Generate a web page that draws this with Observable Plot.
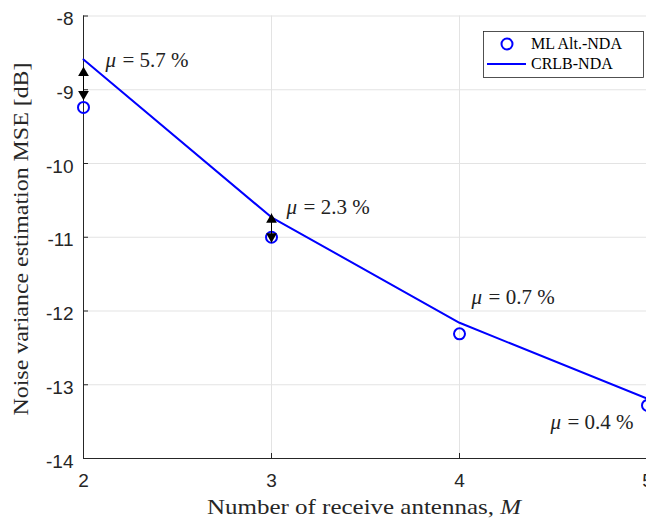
<!DOCTYPE html>
<html><head><meta charset="utf-8">
<script src="https://cdn.jsdelivr.net/npm/d3@7"></script>
<script src="https://cdn.jsdelivr.net/npm/@observablehq/plot@0.6"></script>
<style>
body{margin:0;background:#fff;}
#chart{position:relative;width:646px;height:519px;overflow:hidden;}
</style>
</head><body><div id="chart"></div>
<script>
// ---- data ----
const antennas = [2, 3, 4, 5];
const mlAltNDA = [-9.24, -11.0, -12.31, -13.28];
const crlbNDA = [-8.59, -10.73, -12.16, -13.19];
const xTicks = [2, 3, 4, 5];
const yTicks = [-14, -13, -12, -11, -10, -9, -8];
const gapM = [2, 3];
const gapTop = [-8.69, -10.68];
const gapBottom = [-9.14, -11.07];
const muM = [2.117, 3.08, 4.064, 4.484];
const muY = [-8.6, -10.6, -11.82, -13.51];
const muText = ["5.7", "2.3", "0.7", "0.4"];
const seriesNames = ["ML Alt.-NDA", "CRLB-NDA"];

const blue = "#0000ff";
const axisCol = "#262626";
const gridCol = "#e3e3e3";
const serif = "'Liberation Serif', 'DejaVu Serif', serif";
const sans = "'Liberation Sans', Arial, sans-serif";

const crlbRows = antennas.map((m, i) => ({m, v: crlbNDA[i]}));
const mlRows = antennas.map((m, i) => ({m, v: mlAltNDA[i]}));
const gapRows = gapM.map((m, i) => ({m, top: gapTop[i], bottom: gapBottom[i]}));
const muRows = muM.map((m, i) => ({m, y: muY[i], t: muText[i]}));

const W = 646, H = 519;
const mL = 83, mR = -1, mT = 15.5, mB = 61;
const tickLenX = 5 / ((W - mL - mR) / 3);
const tickLenY = 5 / ((H - mT - mB) / 6);

const chart = Plot.plot({
  width: W, height: H,
  marginLeft: mL, marginRight: mR, marginTop: mT, marginBottom: mB,
  style: {background: "#fff", fontFamily: sans, fontSize: "16px", color: axisCol, overflow: "hidden"},
  x: {domain: [2, 5]},
  y: {domain: [-14, -8]},
  marks: [
    Plot.gridX(xTicks, {stroke: gridCol, strokeOpacity: 1}),
    Plot.gridY(yTicks, {stroke: gridCol, strokeOpacity: 1}),
    Plot.axisX(xTicks, {tickSize: 0, tickPadding: 15, tickFormat: d => String(d), label: null, fontSize: 19, fill: axisCol}),
    Plot.axisY(yTicks, {tickSize: 0, tickPadding: 10, dy: 3, tickFormat: d => String(d), label: null, fontSize: 19, fill: axisCol}),
    Plot.ruleX([2], {stroke: axisCol, strokeWidth: 1}),
    Plot.ruleY([-14], {stroke: axisCol, strokeWidth: 1}),
    Plot.ruleY(yTicks, {x1: 2, x2: 2 + tickLenX, stroke: axisCol}),
    Plot.ruleX(xTicks, {y1: -14, y2: -14 + tickLenY, stroke: axisCol}),
    Plot.line(crlbRows, {x: "m", y: "v", stroke: blue, strokeWidth: 2}),
    Plot.dot(mlRows, {x: "m", y: "v", r: 5.5, stroke: blue, strokeWidth: 2, fill: "none"}),
    Plot.link(gapRows, {x1: "m", x2: "m", y1: "top", y2: "bottom", stroke: "#000", strokeWidth: 1}),
    Plot.dot(gapRows, {x: "m", y: "top", symbol: "triangle", r: 4, fill: "#000", stroke: null, dy: 6}),
    Plot.dot(gapRows, {x: "m", y: "bottom", symbol: "triangle", r: 4, fill: "#000", stroke: null, dy: -6, rotate: 180}),
    Plot.text(muRows, {x: "m", y: "y", text: () => "μ", fontStyle: "italic", textAnchor: "start", fontFamily: serif, fontSize: 21, fill: "#222"}),
    Plot.text(muRows, {x: "m", y: "y", text: d => "= " + d.t + " %", dx: 17, textAnchor: "start", fontFamily: serif, fontSize: 21, fill: "#222"})
  ]
});
document.getElementById("chart").appendChild(chart);

const svg = d3.select(chart);
// axis labels
svg.append("text")
  .attr("transform", "translate(28,239) rotate(-90)")
  .attr("text-anchor", "middle").attr("font-family", serif).attr("font-size", 22).attr("fill", axisCol)
  .attr("textLength", 353).attr("lengthAdjust", "spacingAndGlyphs")
  .text("Noise variance estimation MSE [dB]");
const xl = svg.append("text")
  .attr("x", 364).attr("y", 514)
  .attr("text-anchor", "middle").attr("font-family", serif).attr("font-size", 22).attr("fill", axisCol)
  .attr("textLength", 314).attr("lengthAdjust", "spacingAndGlyphs");
xl.append("tspan").text("Number of receive antennas, ");
xl.append("tspan").attr("font-style", "italic").text("M");

// legend
const lg = svg.append("g");
lg.append("rect").attr("x", 483.5).attr("y", 31.5).attr("width", 160).attr("height", 46)
  .attr("fill", "#fff").attr("stroke", axisCol).attr("stroke-width", 0.8);
lg.append("circle").attr("cx", 507).attr("cy", 44).attr("r", 5.5).attr("fill", "none").attr("stroke", blue).attr("stroke-width", 2);
lg.append("line").attr("x1", 487).attr("x2", 526).attr("y1", 64).attr("y2", 64).attr("stroke", blue).attr("stroke-width", 2);
lg.append("text").attr("x", 531).attr("y", 49).attr("text-anchor", "start").attr("font-family", serif).attr("font-size", 16).attr("fill", "#000").text(seriesNames[0]);
lg.append("text").attr("x", 531).attr("y", 69).attr("text-anchor", "start").attr("font-family", serif).attr("font-size", 16).attr("fill", "#000").text(seriesNames[1]);
</script>
</body></html>
